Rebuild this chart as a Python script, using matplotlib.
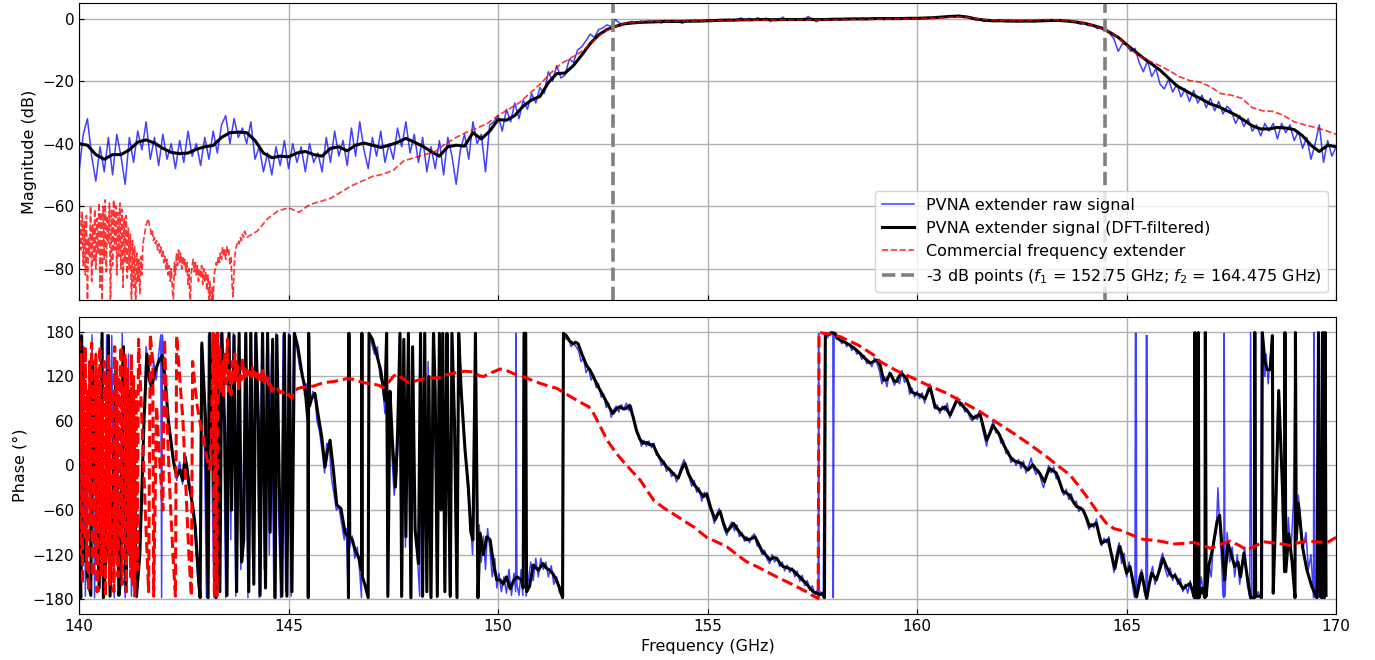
import numpy as np
import matplotlib
matplotlib.use("Agg")
import matplotlib.pyplot as plt

plt.rcParams["font.family"] = ["DejaVu Sans"]
plt.rcParams["font.size"] = 11.5
plt.rcParams["xtick.labelsize"] = 11
plt.rcParams["ytick.labelsize"] = 11

# ---------------- Magnitude data ----------------
# Raw PVNA extender magnitude, 0.1 GHz spacing from 140 to 170 GHz
raw_mag_freq = np.round(np.arange(140.0, 170.0001, 0.1), 2)
raw_mag_db = [
    -49, -37, -32, -44, -52, -41, -49, -38, -50, -37,
    -44, -53, -38, -46, -36, -42, -33, -45, -38, -47,
    -37, -45, -40, -48, -39, -46, -36, -44, -40, -47,
    -38, -45, -36, -43, -34, -31, -40, -32, -38, -35,
    -40, -33, -45, -41, -49, -43, -50, -41, -47, -39,
    -48, -40, -46, -41, -49, -40, -46, -43, -49, -38,
    -46, -36, -44, -39, -47, -35, -44, -33, -42, -48,
    -38, -44, -36, -46, -40, -45, -35, -41, -33, -43,
    -37, -46, -38, -49, -41, -48, -39, -50, -38, -44,
    -53, -42, -37, -45, -33, -40, -37, -49, -34, -33,
    -31, -36, -29, -33, -27, -32, -26, -29, -24, -27,
    -22, -24, -17, -20, -15, -19, -18, -13, -14, -10,
    -9, -7, -5, -6, -3.5, -3, -2, -2.5, -0.3, -1.5,
    -1.8, -1.2, -0.9, -1.5, -0.8, -1.2, -0.7, -1.3, -0.9, -1.4,
    -0.8, -1.2, -0.6, -1.0, -1.5, -0.7, -1.1, -0.5, -0.9, -0.6,
    -0.8, -0.4, -0.7, -0.3, -0.6, -0.2, -0.5, -0.3, 0.2, -0.4,
    0.1, -0.6, 0.3, -0.5, 0.2, -0.9, 0.0, -0.4, 0.5, -0.7,
    -0.2, -0.5, -0.1, -0.6, 0.7, -0.3, -1.0, -0.2, -0.4, 0.0,
    -0.3, 0.0, -0.2, 0.1, -0.3, 0.0, -0.1, 0.2, -0.2, 0.1,
    -0.1, 0.0, -0.3, -0.1, 0.1, -0.2, 0.0, -0.1, 0.2, 0.0,
    0.1, 0.0, 0.3, 0.1, 0.4, 0.3, 0.6, 0.4, 0.8, 0.6,
    1.0, 0.7, 0.5, -0.1, -0.4, -0.3, -0.9, -0.5, -0.7, -0.8,
    -0.6, -0.9, -0.5, -0.8, -1.1, -0.7, -0.9, -0.6, -1.0, -0.4,
    -0.6, -0.9, -0.3, -0.7, -0.5, -0.8, -0.6, -1.0, -1.3, -1.8,
    -1.5, -2.3, -2.0, -3.2, -2.8, -3.5, -4.8, -6.5, -10.5, -8.0,
    -8.5, -10.5, -9.5, -14, -17, -13.5, -18.5, -16, -21, -22.5,
    -19.5, -23.5, -21, -25, -22.5, -26.5, -23, -27, -24.5, -28.5,
    -25.5, -29.5, -26.5, -30.5, -28, -29.5, -33.5, -31, -34.5, -32,
    -36, -34, -37.5, -33.5, -36, -33.5, -38.5, -33.5, -36.5, -34,
    -39, -36, -41.5, -38, -45, -40, -34, -46, -39, -44,
    -41,
]

# DFT-filtered PVNA extender magnitude, 0.2 GHz spacing
filt_mag_freq = np.round(np.arange(140.0, 170.0001, 0.2), 2)
filt_mag_db = [
    -40.0, -40.5, -43.5, -45.0, -43.5,
    -43.5, -42.0, -39.5, -38.8, -39.8,
    -41.5, -42.8, -43.2, -43.0, -41.8,
    -41.0, -40.6, -38.0, -36.5, -36.3,
    -36.5, -39.0, -43.0, -44.5, -44.0,
    -44.2, -43.0, -42.5, -43.5, -44.0,
    -41.5, -41.0, -42.3, -40.5, -39.8,
    -40.5, -41.2, -40.5, -39.6, -38.3,
    -39.5, -40.8, -42.5, -44.0, -41.0,
    -40.5, -40.8, -36.5, -38.5, -36.0,
    -32.3, -32.5, -31.0, -28.0, -26.0,
    -24.9, -20.5, -17.6, -17.4, -15.0,
    -11.6, -8.0, -5.2, -3.5, -2.5,
    -1.7, -1.4, -1.2, -1.1, -1.0,
    -0.9, -0.9, -0.9, -0.8, -0.8,
    -0.7, -0.6, -0.5, -0.5, -0.4,
    -0.4, -0.3, -0.3, -0.4, -0.3,
    -0.3, -0.3, -0.2, -0.3, -0.3,
    -0.2, -0.2, -0.1, -0.1, -0.1,
    0.0, 0.0, 0.0, 0.0, 0.1,
    0.1, 0.2, 0.3, 0.5, 0.7,
    0.8, 0.5, -0.1, -0.5, -0.7,
    -0.7, -0.8, -0.8, -0.8, -0.8,
    -0.7, -0.6, -0.6, -0.8, -1.1,
    -1.5, -2.2, -3.0, -4.4, -6.0,
    -8.3, -10.5, -12.6, -14.5, -16.5,
    -19.0, -21.5, -23.0, -24.5, -25.8,
    -27.3, -28.2, -29.5, -30.8, -32.5,
    -34.3, -35.3, -35.3, -34.8, -35.0,
    -35.5, -37.5, -40.5, -42.5, -40.5,
    -41.0,
]

# Commercial extender magnitude: 0.025 GHz below 144 GHz, 0.25 GHz above
com_mag_freq = np.concatenate([
    np.round(np.arange(140.0, 143.9999, 0.025), 3),
    np.round(np.arange(144.0, 170.0001, 0.25), 2),
])
com_mag_db = [
    -56, -68, -74, -62, -79, -65, -82, -63, -90, -70,
    -76, -60, -84, -66, -78, -61, -80, -64, -75, -59,
    -86, -62, -93, -60, -77, -58, -81, -63, -72, -59,
    -93, -61, -79, -58, -74, -60, -82, -62, -76, -59,
    -80, -61, -86, -64, -78, -63, -83, -67, -80, -69,
    -92, -71, -86, -73, -93, -75, -84, -77, -88, -76,
    -82, -72, -70, -68, -66, -65, -64, -66, -67, -69,
    -68, -71, -70, -72, -71, -74, -72, -75, -73, -76,
    -74, -78, -76, -80, -77, -82, -79, -84, -80, -86,
    -91, -78, -82, -75, -79, -74, -78, -75, -80, -76,
    -79, -77, -81, -78, -85, -80, -93, -82, -79, -77,
    -81, -78, -82, -79, -84, -80, -83, -79, -85, -80,
    -84, -81, -87, -82, -92, -84, -93, -86, -90, -82,
    -80, -78, -79, -76, -78, -75, -77, -73, -76, -74,
    -77, -73, -75, -74, -79, -76, -85, -89, -80, -75,
    -73, -72, -71, -72, -70, -71, -69, -70, -68, -69,
    -70, -68, -64, -61.5,
    -60.5, -62, -59.5, -58.5,
    -57.5, -55.5, -53.5, -52,
    -50.5, -49.8, -48.5, -45.5,
    -44.5, -43.5, -42.5, -40,
    -38, -36.3, -35, -33.5,
    -31, -29, -27, -24,
    -21, -17.5, -14.5, -12.5,
    -10.5, -7.5, -4.5, -2.7,
    -1.6, -1.1, -0.9, -0.9,
    -0.9, -0.8, -0.8, -0.7,
    -0.7, -0.6, -0.6, -0.5,
    -0.5, -0.5, -0.5, -0.4,
    -0.4, -0.4, -0.4, -0.4,
    -0.4, -0.3, -0.3, -0.3,
    -0.2, -0.2, -0.1, -0.1,
    0.0, 0.1, 0.2, 0.4,
    0.6, 0.3, -0.2, -0.4,
    -0.5, -0.5, -0.6, -0.5,
    -0.3, -0.4, -0.5, -0.9,
    -1.5, -2.4, -3.6, -5.5,
    -8.5, -11.5, -13.3, -14.8,
    -16.5, -18.5, -19.8, -20.3,
    -21.8, -24.0, -24.5, -25.5,
    -28.5, -29.5, -29.7, -31.0,
    -33.0, -34.0, -34.8, -35.8,
    -37.0,
]

f1_3db = 152.75
f2_3db = 164.475

# ---------------- Phase data (GHz, degrees) ----------------
raw_phase = [
    (140.00, -60), (140.03, 175), (140.07, -150), (140.11, 160), (140.15, -176),
    (140.21, 100), (140.26, -120), (140.31, 176), (140.37, -178), (140.43, 130),
    (140.48, -170), (140.53, 170), (140.60, -178), (140.66, 176), (140.72, -90),
    (140.78, 175), (140.84, -178), (140.90, 140), (140.97, -160), (141.03, 178),
    (141.10, -178), (141.18, 150), (141.25, -176), (141.33, 50), (141.38, -178),
    (141.46, -110), (141.53, 30), (141.60, 160), (141.66, 120), (141.72, 100),
    (141.78, 140), (141.84, 115), (141.90, 150), (141.95, 176), (141.97, -178),
    (141.99, 176), (142.05, 110), (142.12, 70), (142.18, 30), (142.26, 0),
    (142.33, -20), (142.40, 5), (142.47, -25), (142.53, 15), (142.60, -10),
    (142.68, -40), (142.76, -90), (142.84, -160), (142.88, -178), (142.91, 160),
    (142.98, 80), (143.04, -178), (143.09, 176), (143.16, 30), (143.22, -178),
    (143.26, 176), (143.33, -150), (143.38, 178), (143.45, 60), (143.50, -178),
    (143.56, 176), (143.62, -100), (143.68, 178), (143.74, -176), (143.80, 160),
    (143.86, -140), (143.91, -60), (143.96, 176), (144.03, -178), (144.08, 178),
    (144.14, -120), (144.20, 176), (144.26, 80), (144.30, -178), (144.36, 176),
    (144.42, -140), (144.48, 178), (144.54, -120), (144.59, 150), (144.65, -178),
    (144.70, 178), (144.76, -60), (144.81, -178), (144.87, 176), (144.93, -170),
    (145.00, 178), (145.06, -176), (145.12, 176), (145.18, 165), (145.22, 150),
    (145.27, 130), (145.33, 125), (145.38, 95), (145.42, 110), (145.46, 50),
    (145.47, -178), (145.48, 178), (145.52, 85), (145.58, 100), (145.63, 90),
    (145.68, 60), (145.74, 45), (145.80, 20), (145.86, -10), (145.91, 30),
    (145.97, 25), (146.03, -20), (146.09, -40), (146.14, -60), (146.20, -55),
    (146.27, -80), (146.33, -100), (146.38, -85), (146.42, -178), (146.43, 178),
    (146.46, -110), (146.52, -95), (146.58, -125), (146.64, -110), (146.70, -145),
    (146.74, -178), (146.75, 178), (146.77, -150), (146.84, -165), (146.89, -178),
    (146.93, 178), (146.98, 165), (147.05, 150), (147.12, 160), (147.18, 120),
    (147.24, 110), (147.30, 70), (147.33, 178), (147.36, -178), (147.41, 90),
    (147.46, 20), (147.52, -40), (147.58, -10), (147.63, 50), (147.65, 178),
    (147.69, -178), (147.74, 150), (147.79, -110), (147.85, 178), (147.91, -178),
    (147.95, 150), (148.01, -70), (148.07, -120), (148.13, -176), (148.15, 178),
    (148.19, -178), (148.24, 178), (148.29, -160), (148.33, 140), (148.38, -176),
    (148.44, 178), (148.49, 110), (148.54, -178), (148.59, 176), (148.63, -40),
    (148.67, 178), (148.72, -160), (148.77, 178), (148.81, -40), (148.85, -178),
    (148.89, 178), (148.95, 80), (149.01, -176), (149.05, 176), (149.11, 120),
    (149.18, 50), (149.24, 0), (149.29, -40), (149.33, -60), (149.39, -120),
    (149.44, -40), (149.46, 178), (149.51, -178), (149.55, -80), (149.60, -130),
    (149.65, -95), (149.70, -140), (149.75, -85), (149.80, -110), (149.86, -150),
    (149.92, -125), (149.97, -165), (150.02, -145), (150.08, -170), (150.14, -150),
    (150.20, -172), (150.26, -140), (150.32, -175), (150.38, -145), (150.42, -170),
    (150.43, 178), (150.45, -160), (150.50, -175), (150.55, -140), (150.59, -175),
    (150.61, 176), (150.65, 178), (150.67, -176), (150.72, -155), (150.78, -130),
    (150.84, -155), (150.90, -125), (150.96, -150), (151.02, -125), (151.08, -140),
    (151.14, -130), (151.20, -150), (151.27, -135), (151.33, -160), (151.40, -150),
    (151.46, -170), (151.53, -178), (151.55, 178), (151.62, 170), (151.68, 172),
    (151.74, 160), (151.80, 165), (151.86, 160), (151.92, 155), (151.98, 140),
    (152.04, 145), (152.10, 125), (152.16, 132), (152.22, 115), (152.28, 122),
    (152.34, 105), (152.40, 110), (152.46, 92), (152.52, 96), (152.58, 78),
    (152.64, 84), (152.70, 65), (152.76, 75), (152.82, 80), (152.88, 72),
    (152.94, 82), (153.00, 76), (153.06, 84), (153.12, 74), (153.18, 80),
    (153.24, 60), (153.30, 44), (153.36, 40), (153.42, 26), (153.48, 34),
    (153.54, 26), (153.60, 33), (153.66, 24), (153.72, 30), (153.78, 14),
    (153.84, 12), (153.90, 0), (153.96, 6), (154.02, -8), (154.08, -3),
    (154.14, -15), (154.20, -10), (154.26, -22), (154.32, -12), (154.38, 0),
    (154.44, 8), (154.50, -8), (154.56, -16), (154.62, -28), (154.68, -20),
    (154.74, -36), (154.80, -30), (154.86, -48), (154.92, -36), (154.98, -44),
    (155.04, -55), (155.10, -64), (155.16, -78), (155.22, -65), (155.28, -58),
    (155.34, -72), (155.40, -86), (155.46, -94), (155.52, -82), (155.58, -76),
    (155.64, -88), (155.70, -80), (155.76, -96), (155.82, -90), (155.88, -102),
    (155.94, -96), (156.00, -104), (156.06, -95), (156.12, -92), (156.18, -108),
    (156.24, -110), (156.30, -120), (156.36, -114), (156.42, -126), (156.48, -132),
    (156.54, -120), (156.60, -130), (156.66, -124), (156.72, -136), (156.78, -130),
    (156.84, -142), (156.90, -134), (156.96, -144), (157.02, -138), (157.08, -150),
    (157.14, -142), (157.20, -156), (157.26, -148), (157.32, -162), (157.38, -155),
    (157.44, -168), (157.50, -162), (157.56, -174), (157.62, -168), (157.64, -178),
    (157.65, 178), (157.66, -176), (157.70, -170), (157.76, -178), (157.80, 176),
    (157.86, 172), (157.92, 179), (157.99, 178), (158.00, -178), (158.02, 176),
    (158.08, 170), (158.14, 172), (158.20, 164), (158.26, 168), (158.32, 160),
    (158.38, 164), (158.44, 155), (158.50, 160), (158.56, 150), (158.62, 152),
    (158.68, 143), (158.74, 148), (158.80, 137), (158.86, 140), (158.92, 133),
    (158.98, 145), (159.04, 138), (159.10, 128), (159.16, 110), (159.22, 120),
    (159.28, 106), (159.34, 126), (159.40, 118), (159.46, 108), (159.52, 118),
    (159.58, 110), (159.64, 128), (159.70, 112), (159.76, 120), (159.82, 96),
    (159.88, 104), (159.94, 92), (160.00, 100), (160.06, 90), (160.12, 98),
    (160.18, 84), (160.24, 100), (160.30, 110), (160.36, 92), (160.42, 76),
    (160.48, 82), (160.54, 70), (160.60, 80), (160.66, 74), (160.72, 84),
    (160.78, 64), (160.84, 74), (160.90, 84), (160.96, 92), (161.02, 80),
    (161.08, 84), (161.14, 72), (161.20, 76), (161.26, 64), (161.32, 60),
    (161.38, 68), (161.44, 62), (161.50, 74), (161.56, 50), (161.62, 36),
    (161.66, 26), (161.70, 40), (161.76, 50), (161.82, 60), (161.88, 44),
    (161.94, 46), (162.00, 30), (162.06, 34), (162.12, 16), (162.18, 20),
    (162.24, 4), (162.30, 10), (162.36, 0), (162.42, 8), (162.48, -4),
    (162.54, 6), (162.60, -10), (162.66, -2), (162.72, 10), (162.78, -4),
    (162.84, -12), (162.90, -6), (162.96, -20), (163.02, -30), (163.08, -14),
    (163.14, 0), (163.20, -10), (163.26, -2), (163.32, -18), (163.38, -14),
    (163.44, -30), (163.50, -40), (163.56, -32), (163.62, -46), (163.68, -38),
    (163.74, -52), (163.80, -48), (163.86, -62), (163.92, -56), (163.98, -64),
    (164.04, -74), (164.10, -86), (164.16, -78), (164.22, -84), (164.28, -72),
    (164.34, -96), (164.40, -108), (164.46, -98), (164.52, -104), (164.58, -96),
    (164.64, -124), (164.70, -144), (164.76, -118), (164.82, -104), (164.88, -132),
    (164.94, -118), (165.00, -150), (165.06, -130), (165.12, -152), (165.18, -176),
    (165.20, -178), (165.21, 178), (165.23, 178), (165.24, -176), (165.30, -150),
    (165.36, -140), (165.42, -170), (165.46, -178), (165.47, 175), (165.49, 175),
    (165.50, -178), (165.56, -150), (165.62, -136), (165.68, -160), (165.74, -148),
    (165.80, -130), (165.86, -118), (165.92, -140), (165.98, -150), (166.04, -138),
    (166.10, -155), (166.16, -145), (166.22, -160), (166.28, -152), (166.34, -170),
    (166.40, -160), (166.46, -172), (166.52, -155), (166.58, -176), (166.61, -178),
    (166.62, 179), (166.64, -178), (166.68, -160), (166.70, -178), (166.71, 179),
    (166.73, -178), (166.78, -150), (166.84, -170), (166.87, -178), (166.88, 179),
    (166.90, -178), (166.96, -130), (167.02, -150), (167.08, -100), (167.14, -90),
    (167.18, -30), (167.22, -80), (167.26, -120), (167.30, -175), (167.32, -178),
    (167.33, 178), (167.35, -176), (167.40, -90), (167.46, -130), (167.52, -110),
    (167.58, -150), (167.64, -120), (167.70, -160), (167.76, -130), (167.82, -110),
    (167.88, -160), (167.94, -178), (167.96, 179), (167.99, -178), (168.05, -176),
    (168.06, 179), (168.08, -178), (168.14, -170), (168.20, -178), (168.22, 179),
    (168.26, 150), (168.30, 120), (168.33, 150), (168.38, 110), (168.42, 140),
    (168.47, 170), (168.50, -170), (168.56, -40), (168.62, 100), (168.66, 60),
    (168.72, -20), (168.77, -143), (168.78, 179), (168.80, -140), (168.86, -70),
    (168.92, -120), (168.98, -50), (169.03, 179), (169.05, -90), (169.10, -40),
    (169.16, -80), (169.22, -110), (169.28, -90), (169.34, -140), (169.40, -120),
    (169.46, -178), (169.47, 179), (169.49, -178), (169.54, -170), (169.58, -178),
    (169.60, 179), (169.62, -178), (169.66, -178), (169.67, 179), (169.70, -178),
    (169.72, 179), (169.75, -170),
]

filt_phase = [
    (140.00, -90), (140.04, -178), (140.06, 175), (140.10, -130), (140.15, -100),
    (140.20, -150), (140.28, -175), (140.32, 140), (140.40, -20), (140.48, -165),
    (140.55, 178), (140.58, -178), (140.65, -120), (140.70, 175), (140.74, -176),
    (140.80, -60), (140.88, 135), (140.95, -175), (141.00, -150), (141.06, 160),
    (141.12, -170), (141.20, 100), (141.30, 60), (141.37, -176), (141.45, -120),
    (141.55, 60), (141.62, 150), (141.68, 115), (141.74, 106), (141.80, 125),
    (141.90, 140), (141.98, 148), (142.05, 120), (142.13, 61), (142.25, 7),
    (142.33, -15), (142.41, -6), (142.47, -20), (142.53, 12), (142.58, -5),
    (142.62, -25), (142.70, -50), (142.77, -80), (142.85, -150), (142.89, -178),
    (142.93, 165), (143.02, 60), (143.08, -178), (143.12, 178), (143.20, 20),
    (143.27, -178), (143.30, 178), (143.36, -170), (143.41, 178), (143.48, 40),
    (143.53, -175), (143.58, 178), (143.64, -60), (143.70, 175), (143.76, -170),
    (143.82, 178), (143.88, -130), (143.93, -100), (143.98, 178), (144.05, -170),
    (144.10, 178), (144.17, -160), (144.22, 178), (144.28, 60), (144.32, -175),
    (144.38, 178), (144.45, -165), (144.50, 178), (144.56, -90), (144.62, 170),
    (144.68, -178), (144.72, 175), (144.78, -30), (144.84, -176), (144.90, 178),
    (144.96, -176), (145.02, 175), (145.08, -170), (145.14, 178), (145.22, 160),
    (145.27, 142), (145.33, 120), (145.39, 106), (145.44, 75), (145.46, 61),
    (145.47, -178), (145.48, 178), (145.50, 80), (145.55, 90), (145.63, 97),
    (145.70, 70), (145.79, 39), (145.87, -2), (145.93, 20), (145.99, 34),
    (146.07, -6), (146.15, -53), (146.25, -58), (146.35, -91), (146.42, -95),
    (146.43, -178), (146.44, 178), (146.46, -96), (146.52, -100), (146.59, -114),
    (146.68, -125), (146.74, -141), (146.75, 178), (146.76, -150), (146.82, -160),
    (146.90, -178), (146.92, 178), (147.00, 170), (147.10, 150), (147.20, 128),
    (147.30, 88), (147.34, 178), (147.37, -176), (147.42, 100), (147.48, 30),
    (147.55, -29), (147.60, 40), (147.66, 178), (147.70, -176), (147.75, 170),
    (147.80, -96), (147.86, 178), (147.92, -178), (147.96, 160), (148.02, -87),
    (148.10, -132), (148.15, 178), (148.20, -176), (148.25, 178), (148.30, -170),
    (148.35, 120), (148.40, -178), (148.46, 178), (148.50, 100), (148.55, -176),
    (148.60, 178), (148.64, -60), (148.68, 178), (148.73, -170), (148.78, 178),
    (148.82, -20), (148.86, -176), (148.90, 178), (148.96, 60), (149.02, -178),
    (149.06, 178), (149.12, 100), (149.21, 22), (149.29, -29), (149.35, -90),
    (149.40, -100), (149.46, 178), (149.52, -178), (149.57, -91), (149.65, -120),
    (149.73, -96), (149.81, -100), (149.90, -136), (149.97, -154), (150.05, -154),
    (150.12, -160), (150.20, -150), (150.29, -166), (150.37, -155), (150.45, -150),
    (150.56, -154), (150.60, -165), (150.62, 178), (150.66, 178), (150.68, -170),
    (150.75, -163), (150.84, -134), (150.96, -141), (151.07, -132), (151.15, -138),
    (151.23, -141), (151.30, -145), (151.39, -154), (151.47, -165), (151.54, -178),
    (151.56, 178), (151.63, 175), (151.70, 168), (151.79, 164), (151.85, 166),
    (151.91, 164), (152.00, 150), (152.11, 135), (152.20, 128), (152.27, 120),
    (152.38, 107), (152.50, 95), (152.62, 82), (152.74, 70), (152.82, 76),
    (152.90, 79), (153.00, 76), (153.06, 77), (153.14, 81), (153.22, 66),
    (153.30, 48), (153.38, 36), (153.46, 30), (153.55, 31), (153.62, 28),
    (153.70, 28), (153.78, 18), (153.86, 10), (153.95, 4), (154.02, -2),
    (154.10, -6), (154.20, -12), (154.30, -17), (154.38, -5), (154.46, 3),
    (154.55, -12), (154.66, -24), (154.78, -33), (154.90, -42), (154.98, -38),
    (155.08, -58), (155.18, -73), (155.24, -66), (155.30, -62), (155.38, -78),
    (155.46, -89), (155.54, -84), (155.62, -78), (155.70, -85), (155.78, -91),
    (155.86, -96), (155.93, -100), (156.03, -99), (156.13, -96), (156.20, -104),
    (156.29, -114), (156.38, -120), (156.49, -127), (156.57, -124), (156.65, -125),
    (156.72, -131), (156.80, -136), (156.92, -138), (157.04, -141), (157.12, -146),
    (157.20, -150), (157.28, -155), (157.36, -159), (157.44, -165), (157.52, -170),
    (157.60, -172), (157.68, -174), (157.76, -172), (157.79, -178), (157.81, 178),
    (157.88, 176), (157.96, 179), (158.04, 178), (158.10, 172), (158.16, 169),
    (158.28, 166), (158.40, 162), (158.52, 157), (158.64, 151), (158.76, 144),
    (158.88, 138), (158.96, 140), (159.04, 142), (159.12, 135), (159.20, 115),
    (159.27, 115), (159.36, 124), (159.45, 114), (159.51, 113), (159.57, 120),
    (159.63, 124), (159.75, 117), (159.87, 99), (159.95, 97), (160.07, 95),
    (160.19, 90), (160.31, 106), (160.43, 79), (160.55, 75), (160.67, 79),
    (160.79, 68), (160.87, 78), (160.95, 88), (161.03, 84), (161.11, 79),
    (161.22, 72), (161.34, 63.5), (161.42, 66), (161.50, 70), (161.58, 52),
    (161.66, 34), (161.74, 44), (161.81, 54), (161.90, 47), (161.97, 41),
    (162.05, 30), (162.13, 21), (162.21, 13), (162.29, 7), (162.38, 5),
    (162.49, 3), (162.57, -2), (162.65, -6), (162.76, 1), (162.84, -5),
    (162.92, -10), (163.04, -22), (163.10, -12), (163.16, -4), (163.24, -7),
    (163.32, -10), (163.40, -22), (163.48, -35), (163.56, -37), (163.64, -40),
    (163.72, -48), (163.80, -55), (163.88, -57), (163.96, -60), (164.04, -70),
    (164.12, -82), (164.20, -80), (164.28, -78), (164.34, -92), (164.40, -105),
    (164.48, -102), (164.56, -100), (164.64, -120), (164.72, -139), (164.78, -122),
    (164.84, -109), (164.92, -127), (165.00, -145), (165.08, -136), (165.16, -158),
    (165.24, -177), (165.30, -160), (165.36, -145), (165.42, -162), (165.48, -179),
    (165.54, -160), (165.60, -145), (165.66, -150), (165.71, -154), (165.79, -140),
    (165.87, -125), (165.95, -136), (166.03, -145), (166.09, -150), (166.15, -148),
    (166.25, -157), (166.35, -166), (166.43, -162), (166.51, -159), (166.58, -170),
    (166.62, -178), (166.63, 179), (166.65, -178), (166.70, -178), (166.71, 179),
    (166.73, -178), (166.80, -165), (166.87, -178), (166.88, 179), (166.90, -176),
    (166.96, -136), (167.06, -110), (167.16, -75), (167.22, -67), (167.28, -110),
    (167.34, -154), (167.42, -105), (167.50, -120), (167.58, -136), (167.66, -130),
    (167.72, -150), (167.80, -118), (167.88, -150), (167.96, -178), (168.05, -178),
    (168.06, 179), (168.08, -176), (168.18, -176), (168.22, -178), (168.24, 179),
    (168.30, 140), (168.36, 129), (168.43, 129), (168.48, 175), (168.50, -172),
    (168.56, -60), (168.63, 101), (168.72, -30), (168.77, -143), (168.78, 179),
    (168.80, -143), (168.87, -92), (168.95, -130), (169.02, -178), (169.03, 179),
    (169.05, -100), (169.10, -51), (169.20, -110), (169.30, -140), (169.42, -163),
    (169.54, -178), (169.58, 179), (169.62, -176), (169.66, -178), (169.68, 179),
    (169.72, -178), (169.74, 179), (169.76, -175),
]

com_phase = [
    (140.00, 170), (140.03, -120), (140.05, 150), (140.08, -160), (140.10, 120),
    (140.13, -100), (140.15, 160), (140.18, -140), (140.20, 100), (140.23, -170),
    (140.25, 140), (140.28, -80), (140.30, 165), (140.33, -150), (140.35, 110),
    (140.38, -120), (140.40, 150), (140.43, -170), (140.45, 120), (140.48, -90),
    (140.50, 160), (140.53, -150), (140.55, 90), (140.58, -130), (140.60, 140),
    (140.63, -176), (140.65, 120), (140.68, -110), (140.70, 150), (140.73, -160),
    (140.75, 130), (140.78, -140), (140.80, 100), (140.83, -170), (140.85, 160),
    (140.88, -120), (140.90, 140), (140.93, -150), (140.95, 120), (140.98, -100),
    (141.00, 160), (141.03, -160), (141.05, 110), (141.08, -130), (141.10, 150),
    (141.13, -170), (141.15, 130), (141.18, -120), (141.20, 90), (141.23, -150),
    (141.25, 150), (141.28, -160), (141.30, 120), (141.33, -176), (141.36, 100),
    (141.39, -140), (141.42, 170), (141.50, 60), (141.58, -60), (141.66, -170),
    (141.70, 176), (141.76, 140), (141.78, -176), (141.85, 80), (141.92, 10),
    (142.00, -60), (142.04, 170), (142.10, 60), (142.17, -40), (142.25, -130),
    (142.30, -176), (142.33, 175), (142.40, 120), (142.48, 60), (142.55, -30),
    (142.62, -120), (142.68, -176), (142.71, 140), (142.76, 110), (142.82, 80),
    (142.90, 55), (142.96, 40), (143.02, 20), (143.08, 0), (143.12, -5),
    (143.16, 40), (143.20, 178), (143.23, -176), (143.26, 178), (143.29, -176),
    (143.31, 178), (143.33, 120), (143.36, 160), (143.39, 100), (143.42, 140),
    (143.45, 90), (143.48, 150), (143.51, 110), (143.54, 170), (143.57, 100),
    (143.60, 130), (143.63, 95), (143.66, 140), (143.69, 110), (143.72, 150),
    (143.75, 115), (143.78, 135), (143.81, 100), (143.84, 125), (143.87, 115),
    (143.90, 145), (143.93, 118), (143.96, 130), (143.99, 120), (144.02, 128),
    (144.05, 118), (144.08, 126), (144.11, 120), (144.14, 132), (144.17, 117),
    (144.20, 125), (144.23, 119), (144.26, 124), (144.29, 116), (144.32, 122),
    (144.35, 115), (144.38, 128), (144.41, 112), (144.44, 120), (144.47, 110),
    (144.50, 118), (144.53, 108), (144.56, 112), (144.60, 100), (144.65, 104),
    (144.70, 100), (144.75, 103), (144.80, 98), (144.85, 100), (144.90, 95),
    (144.95, 93), (145.00, 96), (145.05, 92), (145.08, 91), (145.12, 100),
    (145.20, 103), (145.30, 105), (145.45, 106), (145.60, 107), (145.75, 110),
    (145.90, 112), (146.07, 113), (146.25, 115), (146.39, 117), (146.55, 116),
    (146.71, 113), (146.85, 111), (147.00, 110), (147.15, 108), (147.26, 105),
    (147.40, 113), (147.50, 120), (147.58, 123), (147.70, 118), (147.85, 112),
    (147.98, 113), (148.15, 116), (148.30, 117), (148.46, 118), (148.60, 118),
    (148.75, 122), (149.01, 125), (149.20, 127), (149.41, 126), (149.55, 121),
    (149.65, 119.7), (149.80, 124), (150.05, 130), (150.20, 128), (150.40, 123),
    (150.60, 119.7), (150.80, 115), (151.00, 110.8), (151.20, 107), (151.40, 104),
    (151.60, 97), (151.80, 90.5), (152.00, 84), (152.16, 79.3), (152.26, 72),
    (152.36, 61.3), (152.48, 48), (152.60, 34.4), (152.80, 18), (152.99, 5.2),
    (153.20, -8), (153.39, -19.5), (153.55, -33), (153.71, -46.5), (153.95, -57),
    (154.19, -65.4), (154.42, -74), (154.66, -82.4), (154.98, -96.8), (155.22, -103),
    (155.46, -109.4), (155.70, -120), (155.93, -129.6), (156.17, -136), (156.41, -143),
    (156.65, -150), (156.89, -156.5), (157.12, -163), (157.36, -170), (157.50, -175),
    (157.64, -179), (157.66, 179), (157.69, 179), (158.16, 173.6), (158.60, 162),
    (158.96, 149), (159.12, 140), (159.50, 128), (159.91, 117.5), (160.30, 107),
    (160.71, 97.3), (161.10, 85), (161.50, 72.5), (161.90, 58), (162.30, 43.4),
    (162.70, 28), (163.09, 11.9), (163.40, -2), (163.65, -12.8), (163.85, -27),
    (164.05, -42), (164.30, -62), (164.52, -78), (164.70, -85), (164.84, -87),
    (165.10, -93), (165.40, -99.5), (165.71, -101), (165.90, -103), (166.10, -105.8),
    (166.35, -105), (166.60, -103.5), (166.80, -107), (167.00, -111.6), (167.25, -106),
    (167.47, -101.8), (167.70, -108), (167.87, -113.9), (168.05, -109), (168.27, -102.7),
    (168.60, -105), (168.91, -107.6), (169.10, -104), (169.30, -101.8), (169.55, -103),
    (169.78, -104), (170.00, -96.8),
]

# ---------------- Figure ----------------
fig = plt.figure(figsize=(13.75, 6.6), dpi=100)
ax_mag = fig.add_axes([0.0575, 0.5455, 0.9142, 0.45])
ax_ph = fig.add_axes([0.0575, 0.0697, 0.9142, 0.45], sharex=ax_mag)

# Magnitude panel
ax_mag.plot(raw_mag_freq, raw_mag_db, color="blue", lw=1.1, alpha=0.75,
            label="PVNA extender raw signal")
ax_mag.plot(filt_mag_freq, filt_mag_db, color="black", lw=2.2,
            label="PVNA extender signal (DFT-filtered)")
ax_mag.plot(com_mag_freq, com_mag_db, color="red", ls="--", lw=1.2, alpha=0.8,
            label="Commercial frequency extender")
ax_mag.axvline(f1_3db, color="gray", ls="--", lw=2.6,
               label="-3 dB points ($f_1$ = 152.75 GHz; $f_2$ = 164.475 GHz)")
ax_mag.axvline(f2_3db, color="gray", ls="--", lw=2.6)
ax_mag.set_ylim(-90, 5)
ax_mag.set_yticks([0, -20, -40, -60, -80])
ax_mag.set_ylabel("Magnitude (dB)")
ax_mag.grid(True, color="#b0b0b0", lw=1.0)
ax_mag.tick_params(direction="in", labelbottom=False)
ax_mag.legend(loc="lower right", fontsize=11.5)

# Phase panel
rf, rp = zip(*raw_phase)
ff, fp = zip(*filt_phase)
cf, cp = zip(*com_phase)
ax_ph.plot(rf, rp, color="blue", lw=1.1, alpha=0.75)
ax_ph.plot(ff, fp, color="black", lw=2.2)
ax_ph.plot(cf, cp, color="red", ls="--", lw=2.2)
ax_ph.set_ylim(-200, 200)
ax_ph.set_yticks([-180, -120, -60, 0, 60, 120, 180])
ax_ph.set_ylabel("Phase (°)")
ax_ph.set_xlabel("Frequency (GHz)")
ax_ph.grid(True, color="#b0b0b0", lw=1.0)
ax_ph.tick_params(direction="in")

ax_ph.set_xlim(140, 170)
ax_ph.set_xticks([140, 145, 150, 155, 160, 165, 170])

fig.savefig("out.png", dpi=100)
